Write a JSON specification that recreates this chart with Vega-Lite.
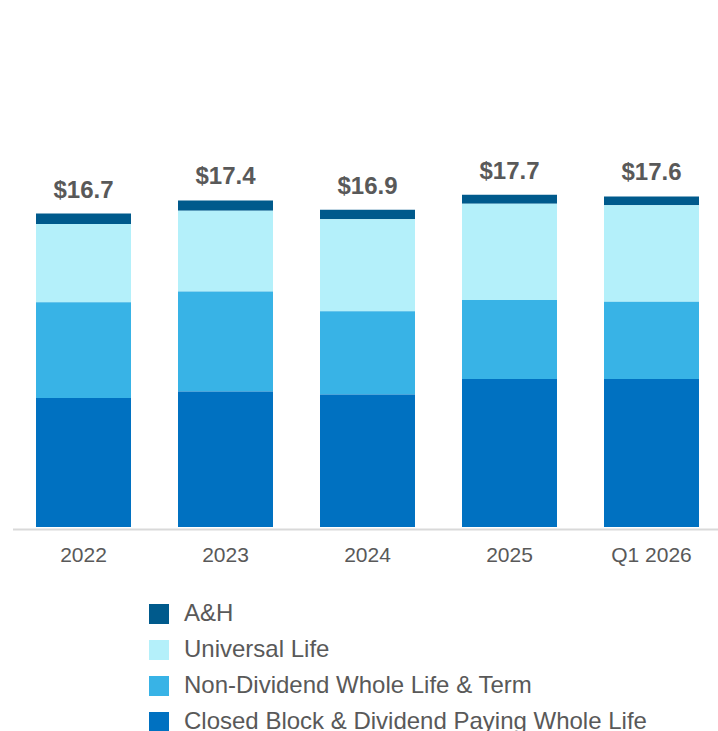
{
  "$schema": "https://vega.github.io/schema/vega-lite/v6.json",
  "width": 710,
  "height": 527,
  "autosize": {"type": "none"},
  "padding": {"left": 12.5, "top": 0, "right": 0, "bottom": 204},
  "background": "white",
  "config": {"view": {"stroke": null}, "font": "Liberation Sans"},
  "data": {"values": [
    {"period": "2022", "series": "A&H", "value": 0.55},
    {"period": "2022", "series": "Universal Life", "value": 4.17},
    {"period": "2022", "series": "Non-Dividend Whole Life & Term", "value": 5.11},
    {"period": "2022", "series": "Closed Block & Dividend Paying Whole Life", "value": 6.87},
    {"period": "2023", "series": "A&H", "value": 0.55},
    {"period": "2023", "series": "Universal Life", "value": 4.30},
    {"period": "2023", "series": "Non-Dividend Whole Life & Term", "value": 5.33},
    {"period": "2023", "series": "Closed Block & Dividend Paying Whole Life", "value": 7.22},
    {"period": "2024", "series": "A&H", "value": 0.50},
    {"period": "2024", "series": "Universal Life", "value": 4.90},
    {"period": "2024", "series": "Non-Dividend Whole Life & Term", "value": 4.44},
    {"period": "2024", "series": "Closed Block & Dividend Paying Whole Life", "value": 7.06},
    {"period": "2025", "series": "A&H", "value": 0.48},
    {"period": "2025", "series": "Universal Life", "value": 5.13},
    {"period": "2025", "series": "Non-Dividend Whole Life & Term", "value": 4.21},
    {"period": "2025", "series": "Closed Block & Dividend Paying Whole Life", "value": 7.88},
    {"period": "Q1 2026", "series": "A&H", "value": 0.46},
    {"period": "Q1 2026", "series": "Universal Life", "value": 5.15},
    {"period": "Q1 2026", "series": "Non-Dividend Whole Life & Term", "value": 4.12},
    {"period": "Q1 2026", "series": "Closed Block & Dividend Paying Whole Life", "value": 7.88}
  ]},
  "encoding": {
    "x": {
      "field": "period", "type": "nominal", "title": null,
      "scale": {"paddingInner": 0.331, "paddingOuter": 0.1655},
      "axis": {
        "labelAngle": 0, "labelFontSize": 21, "labelColor": "#595959",
        "labelFont": "Liberation Sans", "ticks": false, "domainColor": "#D9D9D9",
        "domainWidth": 2, "offset": 2, "labelPadding": 15
      }
    }
  },
  "layer": [
    {
      "transform": [
        {"calculate": "indexof(['Closed Block & Dividend Paying Whole Life', 'Non-Dividend Whole Life & Term', 'Universal Life', 'A&H'], datum.series)", "as": "stackKey"}
      ],
      "mark": {"type": "bar"},
      "encoding": {
        "y": {"field": "value", "type": "quantitative", "stack": "zero",
              "scale": {"domain": [0, 28.08], "nice": false}, "axis": null},
        "color": {
          "field": "series", "type": "nominal",
          "scale": {
            "domain": ["A&H", "Universal Life", "Non-Dividend Whole Life & Term", "Closed Block & Dividend Paying Whole Life"],
            "range": ["#005A8C", "#B4F0FA", "#38B3E6", "#0071C1"]
          },
          "legend": {
            "title": null, "orient": "none", "legendX": 134.5, "legendY": 602,
            "symbolType": "square", "symbolSize": 400, "symbolStrokeWidth": 0,
            "labelFontSize": 24, "labelColor": "#595959", "labelFont": "Liberation Sans",
            "labelOffset": 13, "rowPadding": 12, "labelLimit": 700
          }
        },
        "order": {"field": "stackKey", "type": "quantitative", "sort": "ascending"}
      }
    },
    {
      "mark": {"type": "text", "fontSize": 24, "fontWeight": "bold", "color": "#595959",
               "font": "Liberation Sans", "baseline": "alphabetic", "dy": -16},
      "encoding": {
        "y": {"aggregate": "sum", "field": "value", "type": "quantitative"},
        "text": {"aggregate": "sum", "field": "value", "type": "quantitative", "format": "$.1f"}
      }
    }
  ]
}
